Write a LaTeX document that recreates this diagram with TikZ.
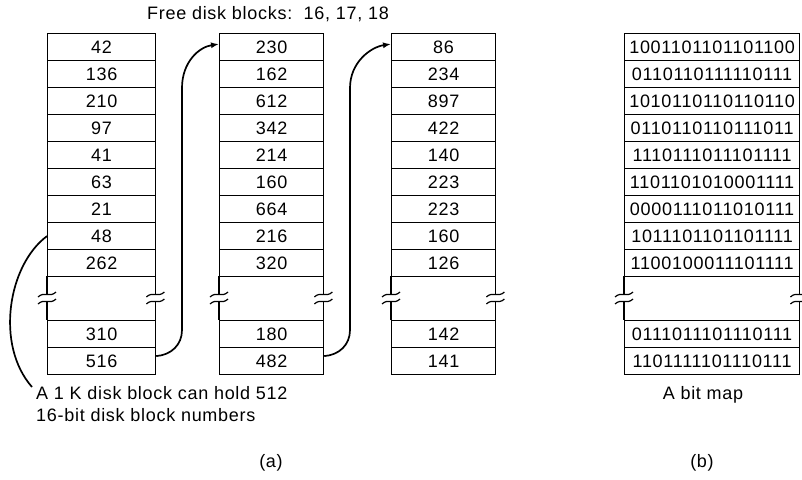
\documentclass[tikz,border=0pt]{standalone}
\usepackage{fontspec}
\setmainfont{Liberation Sans}[LetterSpace=4]
\usetikzlibrary{arrows.meta,calc}
\newcommand\fs{\fontsize{18}{22}\selectfont}
\newcommand\brkside[1]{%
  \draw[edge] (#1) -- ($(#1)+(0,18)$);
  \draw[edge] ($(#1)+(-9,21)$) .. controls +(6,-6) and +(-6,6) .. ($(#1)+(9,16)$);
  \draw[edge] ($(#1)+(-9,28)$) .. controls +(6,-6) and +(-6,6) .. ($(#1)+(9,23)$);
  \draw[edge] ($(#1)+(0,25)$) -- ($(#1)+(0,44)$);
}
\begin{document}
\begin{tikzpicture}[x=1pt,y=-1pt,
  edge/.style={line width=1.2pt},
  cellbox/.style={draw, line width=1.2pt, inner sep=0pt, anchor=north west,
    minimum height=27pt, font=\fs},
  gapbox/.style={inner sep=0pt, anchor=north west, minimum height=44pt},
  plain/.style={inner sep=0pt, font=\fs},
  link/.style={line width=1.7pt, -{Latex[length=8pt,width=6pt]}},
  leader/.style={line width=1.7pt}]
\useasboundingbox (0,0) rectangle (802,479);
% column 1
\foreach \v [count=\i] in {42,136,210,97,41,63,21,48,262}
  \node[cellbox, minimum width=108pt] (c1r\i) at (47,{33+27*(\i-1)}) {\v};
\node[gapbox, minimum width=108pt] (c1gap) at (47,276) {};
\node[cellbox, minimum width=108pt] (c1r10) at (47,320) {310};
\node[cellbox, minimum width=108pt] (c1r11) at (47,347) {516};
% column 2
\foreach \v [count=\i] in {230,162,612,342,214,160,664,216,320}
  \node[cellbox, minimum width=104pt] (c2r\i) at (219,{33+27*(\i-1)}) {\v};
\node[gapbox, minimum width=104pt] (c2gap) at (219,276) {};
\node[cellbox, minimum width=104pt] (c2r10) at (219,320) {180};
\node[cellbox, minimum width=104pt] (c2r11) at (219,347) {482};
% column 3
\foreach \v [count=\i] in {86,234,897,422,140,223,223,160,126}
  \node[cellbox, minimum width=104pt] (c3r\i) at (391,{33+27*(\i-1)}) {\v};
\node[gapbox, minimum width=104pt] (c3gap) at (391,276) {};
\node[cellbox, minimum width=104pt] (c3r10) at (391,320) {142};
\node[cellbox, minimum width=104pt] (c3r11) at (391,347) {141};
% bit map
\foreach \v [count=\i] in {1001101101101100,0110110111110111,1010110110110110,
  0110110110111011,1110111011101111,1101101010001111,0000111011010111,
  1011101101101111,1100100011101111}
  \node[cellbox, minimum width=175pt] (bmr\i) at (624,{33+27*(\i-1)}) {\v};
\node[gapbox, minimum width=175pt] (bmgap) at (624,276) {};
\node[cellbox, minimum width=175pt] (bmr10) at (624,320) {0111011101110111};
\node[cellbox, minimum width=175pt] (bmr11) at (624,347) {1101111101110111};
% break marks
\foreach \g in {c1gap,c2gap,c3gap,bmgap}{
  \brkside{\g.north west}
  \brkside{\g.north east}
}
% texts
\node[plain] (title) at (268,14) {Free disk blocks:\ \ 16, 17, 18};
\node[plain, anchor=north west, align=left] (note) at (36,386)
  {A 1 K disk block can hold 512\\16-bit disk block numbers};
\node[plain] (bmlabel) at (703,395) {A bit map};
\node[plain] (lbla) at (271,463) {(a)};
\node[plain] (lblb) at (702,463) {(b)};
% connectors
\draw[link] ([yshift=5pt]c1r11.east) .. controls (171,355) and (182,345) .. (182,330)
  -- (182,88) .. controls (182,62) and (199,47) .. ([yshift=3pt]c2r1.west);
\draw[link] ([yshift=5pt]c2r11.east) .. controls (339,355) and (350,345) .. (350,330)
  -- (350,88) .. controls (350,62) and (371,47) .. ([yshift=3pt]c3r1.west);
\draw[leader] (c1r8.west) .. controls (8,265) and (-5,345) .. ([xshift=-4pt,yshift=-1pt]note.north west);
\end{tikzpicture}
\end{document}
